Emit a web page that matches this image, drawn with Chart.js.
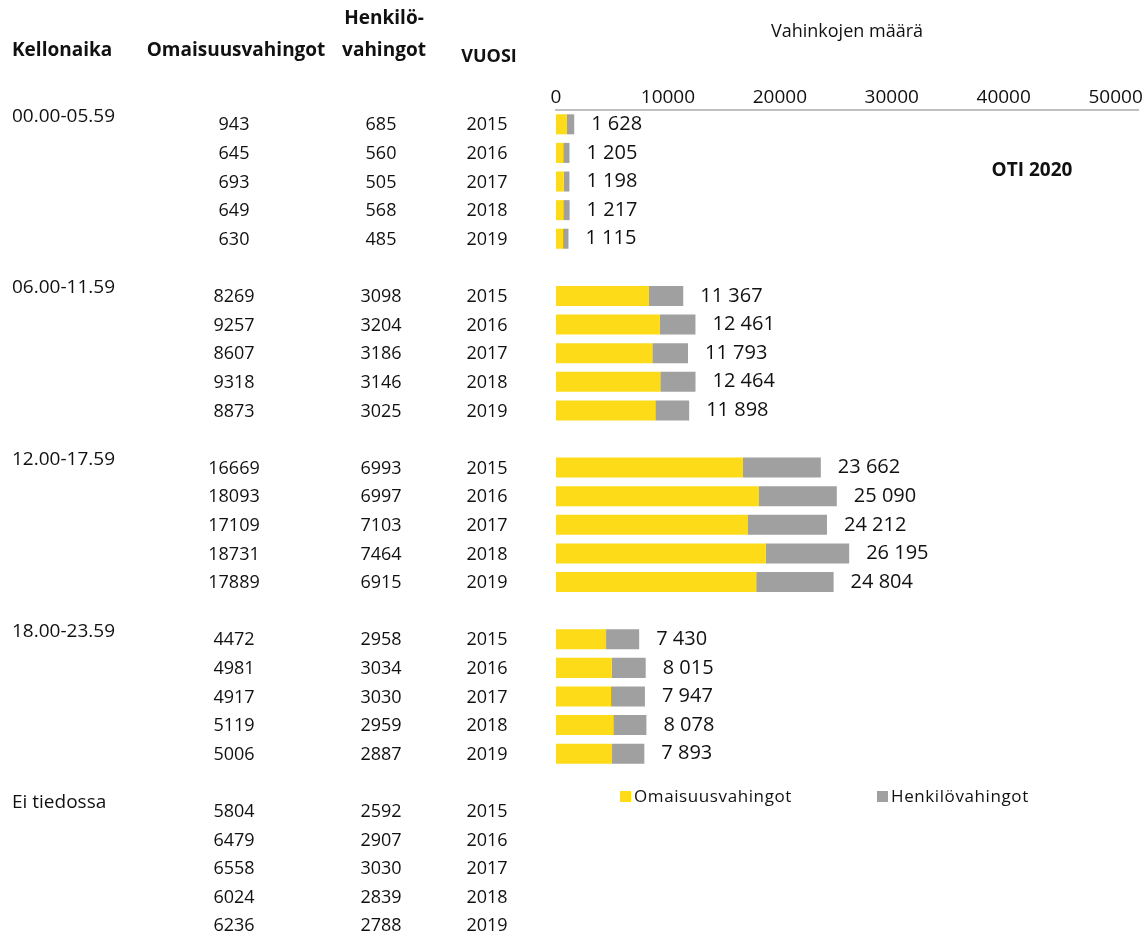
<!DOCTYPE html>
<html>
<head>
<meta charset="utf-8">
<script src="https://cdn.jsdelivr.net/npm/chart.js@4"></script>
<style>
html,body{margin:0;padding:0;background:#fff;overflow:hidden;}
canvas{display:block;}
</style>
</head>
<body>
<canvas id="c" width="1147" height="935"></canvas>
<script>
// ---- data ----
const timeLabels = ['00.00-05.59', '06.00-11.59', '12.00-17.59', '18.00-23.59', 'Ei tiedossa'];
const years = ['2015', '2016', '2017', '2018', '2019'];
const omaisuus = [
  [943, 645, 693, 649, 630],
  [8269, 9257, 8607, 9318, 8873],
  [16669, 18093, 17109, 18731, 17889],
  [4472, 4981, 4917, 5119, 5006],
  [5804, 6479, 6558, 6024, 6236]
];
const henkilo = [
  [685, 560, 505, 568, 485],
  [3098, 3204, 3186, 3146, 3025],
  [6993, 6997, 7103, 7464, 6915],
  [2958, 3034, 3030, 2959, 2887],
  [2592, 2907, 3030, 2839, 2788]
];
const barGroupCount = 4; // 'Ei tiedossa' is only listed in the table
const xTicks = [0, 10000, 20000, 30000, 40000, 50000];
const seriesNames = ['Omaisuusvahingot', 'Henkilövahingot'];
const colors = ['#FDDB18', '#A0A0A0'];

// ---- build category slots (5 years + 1 gap per group) ----
const slotLabels = [], omaSlots = [], henSlots = [];
for (let g = 0; g < barGroupCount; g++) {
  for (let r = 0; r < years.length; r++) {
    slotLabels.push(timeLabels[g] + ' ' + years[r]);
    omaSlots.push(omaisuus[g][r]);
    henSlots.push(henkilo[g][r]);
  }
  if (g < barGroupCount - 1) { slotLabels.push(''); omaSlots.push(null); henSlots.push(null); }
}
const fmt = n => String(n).replace(/\B(?=(\d{3})+(?!\d))/g, ' ');

const FONT = "'Open Sans', 'Noto Sans', sans-serif";
Chart.defaults.font.family = FONT;
Chart.defaults.color = '#1a1a1a';

const overlay = {
  id: 'overlay',
  afterDraw(chart) {
    const ctx = chart.ctx;
    const y = chart.scales.y, x = chart.scales.x;
    ctx.save();
    ctx.fillStyle = '#111';
    ctx.textBaseline = 'middle';
    // headers
    ctx.font = 'bold 19px ' + FONT;
    ctx.textAlign = 'left';
    ctx.fillText('Kellonaika', 12, 51);
    ctx.textAlign = 'center';
    ctx.fillText('Omaisuusvahingot', 236, 51);
    ctx.fillText('Henkilö-', 384, 19);
    ctx.fillText('vahingot', 384, 51);
    ctx.font = 'bold 18px ' + FONT;
    ctx.fillText('VUOSI', 489, 57);
    // table body
    for (let g = 0; g < timeLabels.length; g++) {
      for (let r = 0; r < years.length; r++) {
        const py = y.getPixelForValue(g * 6 + r);
        if (r === 0) {
          ctx.font = '19px ' + FONT;
          ctx.textAlign = 'left';
          ctx.fillText(timeLabels[g], 12, py - 8);
        }
        ctx.font = '18px ' + FONT;
        ctx.textAlign = 'center';
        ctx.fillText(String(omaisuus[g][r]), 234, py + 1);
        ctx.fillText(String(henkilo[g][r]), 381, py + 1);
        ctx.fillText(years[r], 487, py + 1);
      }
    }
    // totals next to bars
    ctx.font = '20px ' + FONT;
    ctx.textAlign = 'left';
    for (let g = 0; g < barGroupCount; g++) {
      for (let r = 0; r < years.length; r++) {
        const tot = omaisuus[g][r] + henkilo[g][r];
        const py = y.getPixelForValue(g * 6 + r);
        ctx.fillText(fmt(tot), x.getPixelForValue(tot) + 17, py);
      }
    }
    // legend
    ctx.font = '17px ' + FONT;
    if ('letterSpacing' in ctx) ctx.letterSpacing = '0.6px';
    const ly = 797;
    const items = [[620, 0], [877, 1]];
    items.forEach(([lx, i]) => {
      ctx.fillStyle = colors[i];
      ctx.fillRect(lx, ly - 6, 11, 11);
      ctx.fillStyle = '#111';
      ctx.fillText(seriesNames[i], lx + 14, ly);
    });
    if ('letterSpacing' in ctx) ctx.letterSpacing = '0px';
    // OTI 2020
    ctx.font = 'bold 19px ' + FONT;
    ctx.textAlign = 'center';
    ctx.fillText('OTI 2020', 1032, 171);
    ctx.restore();
  }
};

new Chart(document.getElementById('c'), {
  type: 'bar',
  data: {
    labels: slotLabels,
    datasets: [
      { label: seriesNames[0], data: omaSlots, backgroundColor: colors[0], barPercentage: 0.7, categoryPercentage: 1 },
      { label: seriesNames[1], data: henSlots, backgroundColor: colors[1], barPercentage: 0.7, categoryPercentage: 1 }
    ]
  },
  options: {
    indexAxis: 'y',
    responsive: false,
    animation: false,
    layout: { padding: { left: 556, right: 9, top: 0, bottom: 167 } },
    plugins: { legend: { display: false }, tooltip: { enabled: false } },
    scales: {
      x: {
        position: 'top', stacked: true, min: 0, max: 52000,
        afterFit(s) { s.height = 110; },
        afterBuildTicks(s) { s.ticks = xTicks.map(v => ({ value: v })); },
        ticks: { padding: 1, font: { size: 19 }, color: '#111', callback: v => String(v) },
        grid: { display: false, drawTicks: false },
        border: { display: true, color: '#BFBFBF', width: 2 },
        title: { display: true, text: 'Vahinkojen määrä', font: { size: 18 }, color: '#111', padding: { top: 21, bottom: 0 } }
      },
      y: { stacked: true, display: false }
    }
  },
  plugins: [overlay]
});
</script>
</body>
</html>
